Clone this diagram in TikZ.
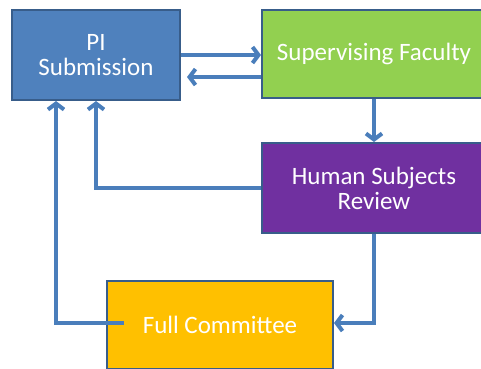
\documentclass[tikz,border=0pt]{standalone}
\usepackage{fontspec}
\setmainfont{Carlito}
\usetikzlibrary{arrows.meta}
\definecolor{piblue}{HTML}{4F81BD}
\definecolor{boxline}{HTML}{385D8A}
\definecolor{sfgreen}{HTML}{92D050}
\definecolor{hspurple}{HTML}{7030A0}
\definecolor{fcorange}{HTML}{FFC000}
\definecolor{linkblue}{HTML}{4A7EBB}
\tikzstyle{stage}=[rectangle,draw=boxline,line width=2pt,text=white,align=center,inner sep=0pt,font=\fontsize{25}{25}\selectfont]
\tikzstyle{link} = [draw,line width=4pt,linkblue,-{Straight Barb[length=6pt,width=16pt]}]

\begin{document}
\begin{tikzpicture}[x=1pt,y=-1pt]
    \useasboundingbox (0,0) rectangle (481,368);
    % First we draw the stages
    \node[stage,fill=piblue,minimum width=168pt,minimum height=90pt] (pi) at (96,55) {PI\\Submission};
    \node[stage,fill=sfgreen,minimum width=224pt,minimum height=88pt] (sf) at (374,54) {Supervising Faculty};
    \node[stage,fill=hspurple,minimum width=224pt,minimum height=90pt] (hs) at (374,188) {Human Subjects\\Review};
    \node[stage,fill=fcorange,minimum width=226pt,minimum height=88pt] (fc) at (220,325) {Full Committee};

    % Connect the stages
    \path[link] (pi.east) -- (pi.east -| sf.west);
    \path[link] ([yshift=-23pt]sf.west) -- ([yshift=-23pt,xshift=6pt]sf.west -| pi.east);
    \path[link] (sf.south) -- (hs.north);
    \path[link] (hs.west) -| (pi.south);
    \path[link] (hs.south) |- ([yshift=2pt]fc.east);
    \path[link] ([xshift=18pt,yshift=2pt]fc.west) -| ([xshift=-40pt]pi.south);
\end{tikzpicture}
\end{document}
